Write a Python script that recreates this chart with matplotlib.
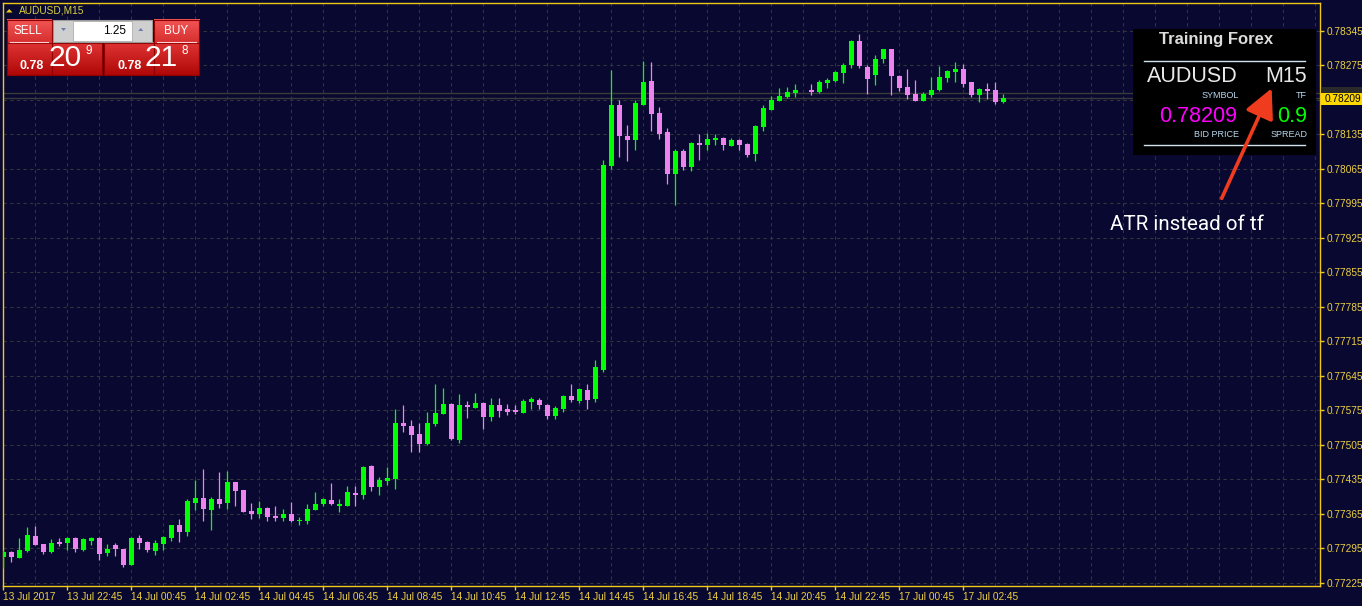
import numpy as np
import matplotlib
matplotlib.use("Agg")
import matplotlib.pyplot as plt
from matplotlib.patches import Rectangle, Polygon

# AUDUSD M15 bars, 13 Jul 20:45 -> 17 Jul 03:00 (one bar not drawn -> None)
opens = [0.77278, 0.77287, 0.77276, 0.77289, 0.77320, 0.77304, 0.77287, 0.77308, 0.77306, 0.77316,
         0.77291, 0.77310, 0.77316, 0.77285, 0.77302, 0.77293, 0.77261, 0.77316, 0.77308, 0.77289,
         0.77304, 0.77316, 0.77342, 0.77328, 0.77387, 0.77397, 0.77373, 0.77395, 0.77387, 0.77429,
         0.77413, 0.77371, 0.77365, 0.77377, 0.77360, 0.77356, 0.77365, 0.77351, 0.77350, 0.77373,
         0.77385, 0.77393, 0.77381, 0.77381, 0.77407, 0.77403, 0.77462, 0.77419, 0.77431, 0.77436,
         0.77549, 0.77543, 0.77527, 0.77507, 0.77547, 0.77568, 0.77588, 0.77515, 0.77586, 0.77580,
         0.77590, 0.77561, 0.77586, 0.77578, 0.77576, 0.77570, 0.77592, 0.77596, 0.77586, 0.77563,
         0.77578, 0.77604, 0.77594, 0.77616, 0.77598, 0.77657, 0.78071, 0.78195, 0.78132, 0.78124,
         0.78195, 0.78243, 0.78178, 0.78140, 0.78055, 0.78101, 0.78069, 0.78118, 0.78114, 0.78124,
         0.78128, 0.78112, 0.78124, 0.78116, 0.78095, 0.78150, 0.78185, 0.78203, 0.78211, 0.78219,
         None, 0.78225, 0.78221, 0.78239, 0.78243, 0.78260, 0.78276, 0.78325, 0.78272, 0.78256,
         0.78288, 0.78308, 0.78254, 0.78231, 0.78217, 0.78203, 0.78215, 0.78225, 0.78250, 0.78262,
         0.78268, 0.78241, 0.78215, 0.78227, 0.78225, 0.78201]
highs = [0.77291, 0.77289, 0.77316, 0.77338, 0.77340, 0.77304, 0.77314, 0.77316, 0.77318, 0.77318,
         0.77316, 0.77318, 0.77317, 0.77304, 0.77306, 0.77294, 0.77318, 0.77322, 0.77309, 0.77312,
         0.77320, 0.77343, 0.77354, 0.77395, 0.77434, 0.77456, 0.77399, 0.77450, 0.77452, 0.77430,
         0.77414, 0.77387, 0.77391, 0.77379, 0.77381, 0.77375, 0.77389, 0.77358, 0.77385, 0.77409,
         0.77396, 0.77427, 0.77395, 0.77421, 0.77421, 0.77462, 0.77463, 0.77440, 0.77460, 0.77578,
         0.77586, 0.77555, 0.77549, 0.77572, 0.77628, 0.77620, 0.77589, 0.77608, 0.77594, 0.77610,
         0.77591, 0.77600, 0.77600, 0.77588, 0.77586, 0.77598, 0.77602, 0.77600, 0.77587, 0.77584,
         0.77606, 0.77628, 0.77620, 0.77628, 0.77677, 0.78083, 0.78266, 0.78205, 0.78154, 0.78205,
         0.78284, 0.78282, 0.78190, 0.78148, 0.78105, 0.78105, 0.78120, 0.78136, 0.78138, 0.78136,
         0.78130, 0.78128, 0.78126, 0.78117, 0.78154, 0.78195, 0.78213, 0.78229, 0.78231, 0.78237,
         None, 0.78237, 0.78245, 0.78249, 0.78263, 0.78280, 0.78326, 0.78339, 0.78276, 0.78296,
         0.78309, 0.78309, 0.78256, 0.78268, 0.78245, 0.78221, 0.78252, 0.78274, 0.78266, 0.78282,
         0.78278, 0.78242, 0.78228, 0.78239, 0.78241, 0.78217]
lows = [0.77255, 0.77268, 0.77275, 0.77288, 0.77301, 0.77284, 0.77286, 0.77300, 0.77291, 0.77287,
        0.77290, 0.77302, 0.77271, 0.77279, 0.77279, 0.77257, 0.77260, 0.77293, 0.77287, 0.77281,
        0.77291, 0.77310, 0.77308, 0.77320, 0.77373, 0.77350, 0.77332, 0.77377, 0.77375, 0.77381,
        0.77368, 0.77354, 0.77356, 0.77350, 0.77350, 0.77350, 0.77349, 0.77342, 0.77344, 0.77372,
        0.77381, 0.77383, 0.77369, 0.77380, 0.77381, 0.77395, 0.77411, 0.77403, 0.77423, 0.77415,
        0.77531, 0.77490, 0.77490, 0.77505, 0.77543, 0.77567, 0.77515, 0.77509, 0.77559, 0.77579,
        0.77537, 0.77553, 0.77561, 0.77565, 0.77567, 0.77569, 0.77578, 0.77578, 0.77557, 0.77557,
        0.77572, 0.77592, 0.77590, 0.77578, 0.77592, 0.77653, 0.78065, 0.78089, 0.78081, 0.78103,
        0.78194, 0.78142, 0.78126, 0.78034, 0.77992, 0.78063, 0.78061, 0.78083, 0.78103, 0.78114,
        0.78103, 0.78111, 0.78103, 0.78089, 0.78081, 0.78142, 0.78184, 0.78202, 0.78209, 0.78211,
        None, 0.78215, 0.78219, 0.78229, 0.78242, 0.78239, 0.78270, 0.78270, 0.78217, 0.78235,
        0.78280, 0.78215, 0.78223, 0.78207, 0.78202, 0.78202, 0.78211, 0.78223, 0.78241, 0.78241,
        0.78231, 0.78211, 0.78201, 0.78207, 0.78197, 0.78199]
closes = [0.77288, 0.77277, 0.77291, 0.77322, 0.77302, 0.77288, 0.77306, 0.77304, 0.77316, 0.77293,
          0.77314, 0.77316, 0.77283, 0.77293, 0.77293, 0.77261, 0.77316, 0.77306, 0.77291, 0.77306,
          0.77318, 0.77342, 0.77328, 0.77391, 0.77397, 0.77375, 0.77395, 0.77385, 0.77429, 0.77411,
          0.77369, 0.77365, 0.77377, 0.77358, 0.77356, 0.77365, 0.77350, 0.77353, 0.77375, 0.77385,
          0.77395, 0.77385, 0.77385, 0.77409, 0.77403, 0.77460, 0.77419, 0.77434, 0.77438, 0.77549,
          0.77543, 0.77525, 0.77507, 0.77549, 0.77570, 0.77588, 0.77517, 0.77586, 0.77582, 0.77590,
          0.77561, 0.77586, 0.77574, 0.77572, 0.77572, 0.77594, 0.77598, 0.77586, 0.77563, 0.77580,
          0.77604, 0.77596, 0.77618, 0.77596, 0.77663, 0.78073, 0.78195, 0.78132, 0.78124, 0.78199,
          0.78241, 0.78176, 0.78136, 0.78055, 0.78101, 0.78069, 0.78118, 0.78114, 0.78126, 0.78128,
          0.78114, 0.78124, 0.78114, 0.78093, 0.78152, 0.78189, 0.78205, 0.78213, 0.78221, 0.78225,
          None, 0.78221, 0.78241, 0.78245, 0.78262, 0.78276, 0.78325, 0.78274, 0.78248, 0.78288,
          0.78308, 0.78254, 0.78229, 0.78215, 0.78203, 0.78217, 0.78225, 0.78252, 0.78264, 0.78268,
          0.78237, 0.78215, 0.78227, 0.78223, 0.78201, 0.78209]

time_labels = ["13 Jul 2017", "13 Jul 22:45", "14 Jul 00:45", "14 Jul 02:45", "14 Jul 04:45",
               "14 Jul 06:45", "14 Jul 08:45", "14 Jul 10:45", "14 Jul 12:45", "14 Jul 14:45",
               "14 Jul 16:45", "14 Jul 18:45", "14 Jul 20:45", "14 Jul 22:45", "17 Jul 00:45",
               "17 Jul 02:45"]
price_ticks = [0.77225, 0.77295, 0.77365, 0.77435, 0.77505, 0.77575, 0.77645, 0.77715, 0.77785,
               0.77855, 0.77925, 0.77995, 0.78065, 0.78135, 0.78205, 0.78275, 0.78345]
bid = 0.78209
ask = 0.78218
spread = 0.9

W, H = 1362, 606
navy = "#080830"
yellow = "#f0c818"
txt_yellow = "#ecd040"
up_col = "#00ff00"
dn_col = "#ee82ee"
grid_col = "#34343c"

fig = plt.figure(figsize=(W / 100, H / 100), dpi=100)
fig.patch.set_facecolor(navy)

ax = fig.add_axes([2.5 / W, (H - 585.5) / H, (1319.5 - 2.5) / W, (585.5 - 3) / H])
ax.set_facecolor(navy)

o = np.array([np.nan if v is None else v for v in opens])
h = np.array([np.nan if v is None else v for v in highs])
l = np.array([np.nan if v is None else v for v in lows])
c = np.array([np.nan if v is None else v for v in closes])
x = np.arange(len(o))
up = c >= o
colors = np.where(up, up_col, dn_col)

ax.vlines(x, l, h, colors=colors, linewidth=0.9, zorder=3)
body_lo = np.minimum(o, c)
body_h = np.maximum(np.abs(c - o), 0.00002)
ax.bar(x, body_h, bottom=body_lo, width=0.62, color=colors, linewidth=0, zorder=4)

# bid / ask lines
ax.axhline(ask, color="#3a3a3a", lw=1, zorder=2)
ax.axhline(bid, color="#3a3a3a", lw=1, zorder=2)

ax.set_xlim(-0.1, 164.5)
ax.set_ylim(0.772193, 0.784014)

# grid
for gx in range(0, 165, 4):
    ax.axvline(gx, color=grid_col, lw=0.8, ls=(0, (3, 3)), zorder=1)
for gy in price_ticks:
    ax.axhline(gy, color=grid_col, lw=0.8, ls=(0, (3, 3)), zorder=1)

ax.yaxis.tick_right()
ax.set_yticks(price_ticks)
ax.set_yticklabels([f"{p:.5f}" for p in price_ticks])
ax.set_xticks([8 * k for k in range(len(time_labels))])
ax.set_xticklabels(time_labels, ha="left")
ax.tick_params(axis="y", direction="out", length=3, width=1, color=yellow,
               labelcolor=txt_yellow, labelsize=7.3, pad=2)
ax.tick_params(axis="x", direction="out", length=3, width=1, color=yellow,
               labelcolor=txt_yellow, labelsize=7.3, pad=2)
for lab in ax.get_xticklabels() + ax.get_yticklabels():
    lab.set_family("Liberation Sans")
for s in ax.spines.values():
    s.set_color(yellow)
    s.set_linewidth(1)

# overlay in pixel coordinates
ov = fig.add_axes([0, 0, 1, 1], zorder=10)
ov.patch.set_alpha(0)
ov.axis("off")


def grad(x0, x1, y0, y1, c0, c1):
    a = np.array(matplotlib.colors.to_rgb(c0))
    b = np.array(matplotlib.colors.to_rgb(c1))
    t = np.linspace(0, 1, 32)[:, None]
    img = (a * (1 - t) + b * t)[:, None, :]
    ov.imshow(img, extent=(x0, x1, y1, y0), aspect="auto", interpolation="bilinear", zorder=2)


# trade panel
grad(6.7, 51.7, 20, 42.5, "#f25656", "#d83030")
grad(154, 199.3, 20, 42.5, "#f25656", "#d83030")
grad(6.7, 101.7, 42.5, 75.3, "#e03434", "#b00808")
grad(104.3, 199.3, 42.5, 75.3, "#e03434", "#b00808")
for (x0, x1) in [(6.7, 51.7), (154, 199.3)]:
    ov.add_patch(Rectangle((x0, 20), x1 - x0, 55.3, fill=False, ec="#900000", lw=0.8, zorder=3))
ov.add_patch(Rectangle((6.7, 42.5), 95, 32.8, fill=False, ec="#900000", lw=0.8, zorder=3))
ov.add_patch(Rectangle((104.3, 42.5), 95, 32.8, fill=False, ec="#900000", lw=0.8, zorder=3))
ov.plot([10, 47.7], [41.5, 41.5], color="#ffd0d0", lw=0.8, zorder=4)
ov.plot([157, 195.5], [41.5, 41.5], color="#ffd0d0", lw=0.8, zorder=4)
ov.add_patch(Rectangle((53.3, 20), 98.4, 21.5, fc="#cfcfcf", ec="#9a9a9a", lw=0.8, zorder=3))
ov.add_patch(Rectangle((73.3, 20.5), 58.4, 20.5, fc="white", ec="#b0b0b0", lw=0.6, zorder=4))
ov.add_patch(Polygon([[61, 28], [66, 28], [63.5, 31]], closed=True, fc="#6a7ab0", ec="none", zorder=5))
ov.add_patch(Polygon([[138.3, 31], [143.3, 31], [140.8, 28]], closed=True, fc="#6a7ab0", ec="none", zorder=5))

f = "Liberation Sans"
ov.text(28, 31, "SELL", color="white", fontsize=8.5, family=f, ha="center", va="center", zorder=6)
ov.text(176, 31, "BUY", color="white", fontsize=8.5, family=f, ha="center", va="center", zorder=6)
ov.text(126, 30.5, f"{1.25:.2f}", color="black", fontsize=8.5, family=f, ha="right", va="center", zorder=6)
sell_px = f"{bid:.5f}"
buy_px = f"{ask:.5f}"
ov.text(31.7, 66, sell_px[:4], color="white", fontsize=9, weight="bold", family=f, ha="center", va="center", zorder=6)
ov.text(65.5, 58, sell_px[4:6], color="white", fontsize=21.5, family=f, ha="center", va="center", zorder=6)
ov.text(88.3, 51, sell_px[6], color="white", fontsize=8.5, family=f, ha="center", va="center", zorder=6)
ov.text(130, 66, buy_px[:4], color="white", fontsize=9, weight="bold", family=f, ha="center", va="center", zorder=6)
ov.text(161, 58, buy_px[4:6], color="white", fontsize=21.5, family=f, ha="center", va="center", zorder=6)
ov.text(185, 51, buy_px[6], color="white", fontsize=8.5, family=f, ha="center", va="center", zorder=6)

# symbol header
ov.add_patch(Polygon([[6, 12.5], [12.5, 12.5], [9.25, 9]], closed=True, fc=yellow, ec="none", zorder=6))
ov.text(19, 10.5, "AUDUSD,M15", color="#d8d040", fontsize=7.3, family=f, ha="left", va="center", zorder=6)

# info panel
ov.add_patch(Rectangle((1133, 29), 183, 126, fc="black", ec="none", zorder=3))
ov.text(1216.5, 39.5, "Training Forex", color="#dcdcdc", fontsize=12, weight="bold", family=f,
        ha="center", va="center", zorder=6)
ov.plot([1144, 1305], [60.7, 60.7], color="#d0e4f0", lw=1, zorder=5)
ov.plot([1144, 1305], [145, 145], color="#d0e4f0", lw=1, zorder=5)
ov.text(1237.5, 77, "AUDUSD", color="#e8e8e8", fontsize=15.5, family=f, ha="right", va="center", zorder=6)
ov.text(1307, 77, "M15", color="#e8e8e8", fontsize=15.5, family=f, ha="right", va="center", zorder=6)
ov.text(1238.5, 95.5, "SYMBOL", color="#b8d8f0", fontsize=6.5, family=f, ha="right", va="center", zorder=6)
ov.text(1307, 95.5, "TF", color="#b8d8f0", fontsize=6.5, family=f, ha="right", va="center", zorder=6)
ov.text(1237.5, 117, f"{bid:.5f}", color="#ff00ff", fontsize=15.5, family=f, ha="right", va="center", zorder=6)
ov.text(1307, 117, f"{spread:.1f}", color="#00ff00", fontsize=15.5, family=f, ha="right", va="center", zorder=6)
ov.text(1238.5, 134.5, "BID PRICE", color="#b8d8f0", fontsize=6.5, family=f, ha="right", va="center", zorder=6)
ov.text(1307.5, 134.5, "SPREAD", color="#b8d8f0", fontsize=6.5, family=f, ha="right", va="center", zorder=6)

# price labels on the scale
ov.add_patch(Rectangle((1321, 86.5), 41, 8, fc="#2a2a2a", ec="none", zorder=5))
ov.add_patch(Rectangle((1321, 93.3), 41, 11.5, fc="#ffd800", ec="none", zorder=6))
ov.text(1325, 99, f"{bid:.5f}", color="black", fontsize=7.3, family=f, ha="left", va="center", zorder=7)

# annotation
ov.annotate("", xy=(1271.7, 88.3), xytext=(1221.7, 198.3),
            arrowprops=dict(arrowstyle="-|>,head_length=0.9,head_width=0.45", color="#f03c1e",
                            lw=2.6, mutation_scale=20, shrinkA=0, shrinkB=0), zorder=8)
ov.text(1110, 224, "ATR instead of tf", color="white", fontsize=14.8, family="Roboto",
        ha="left", va="center", zorder=8)

ov.set_xlim(0, W)
ov.set_ylim(H, 0)

fig.savefig("out.png", dpi=100, facecolor=navy)
